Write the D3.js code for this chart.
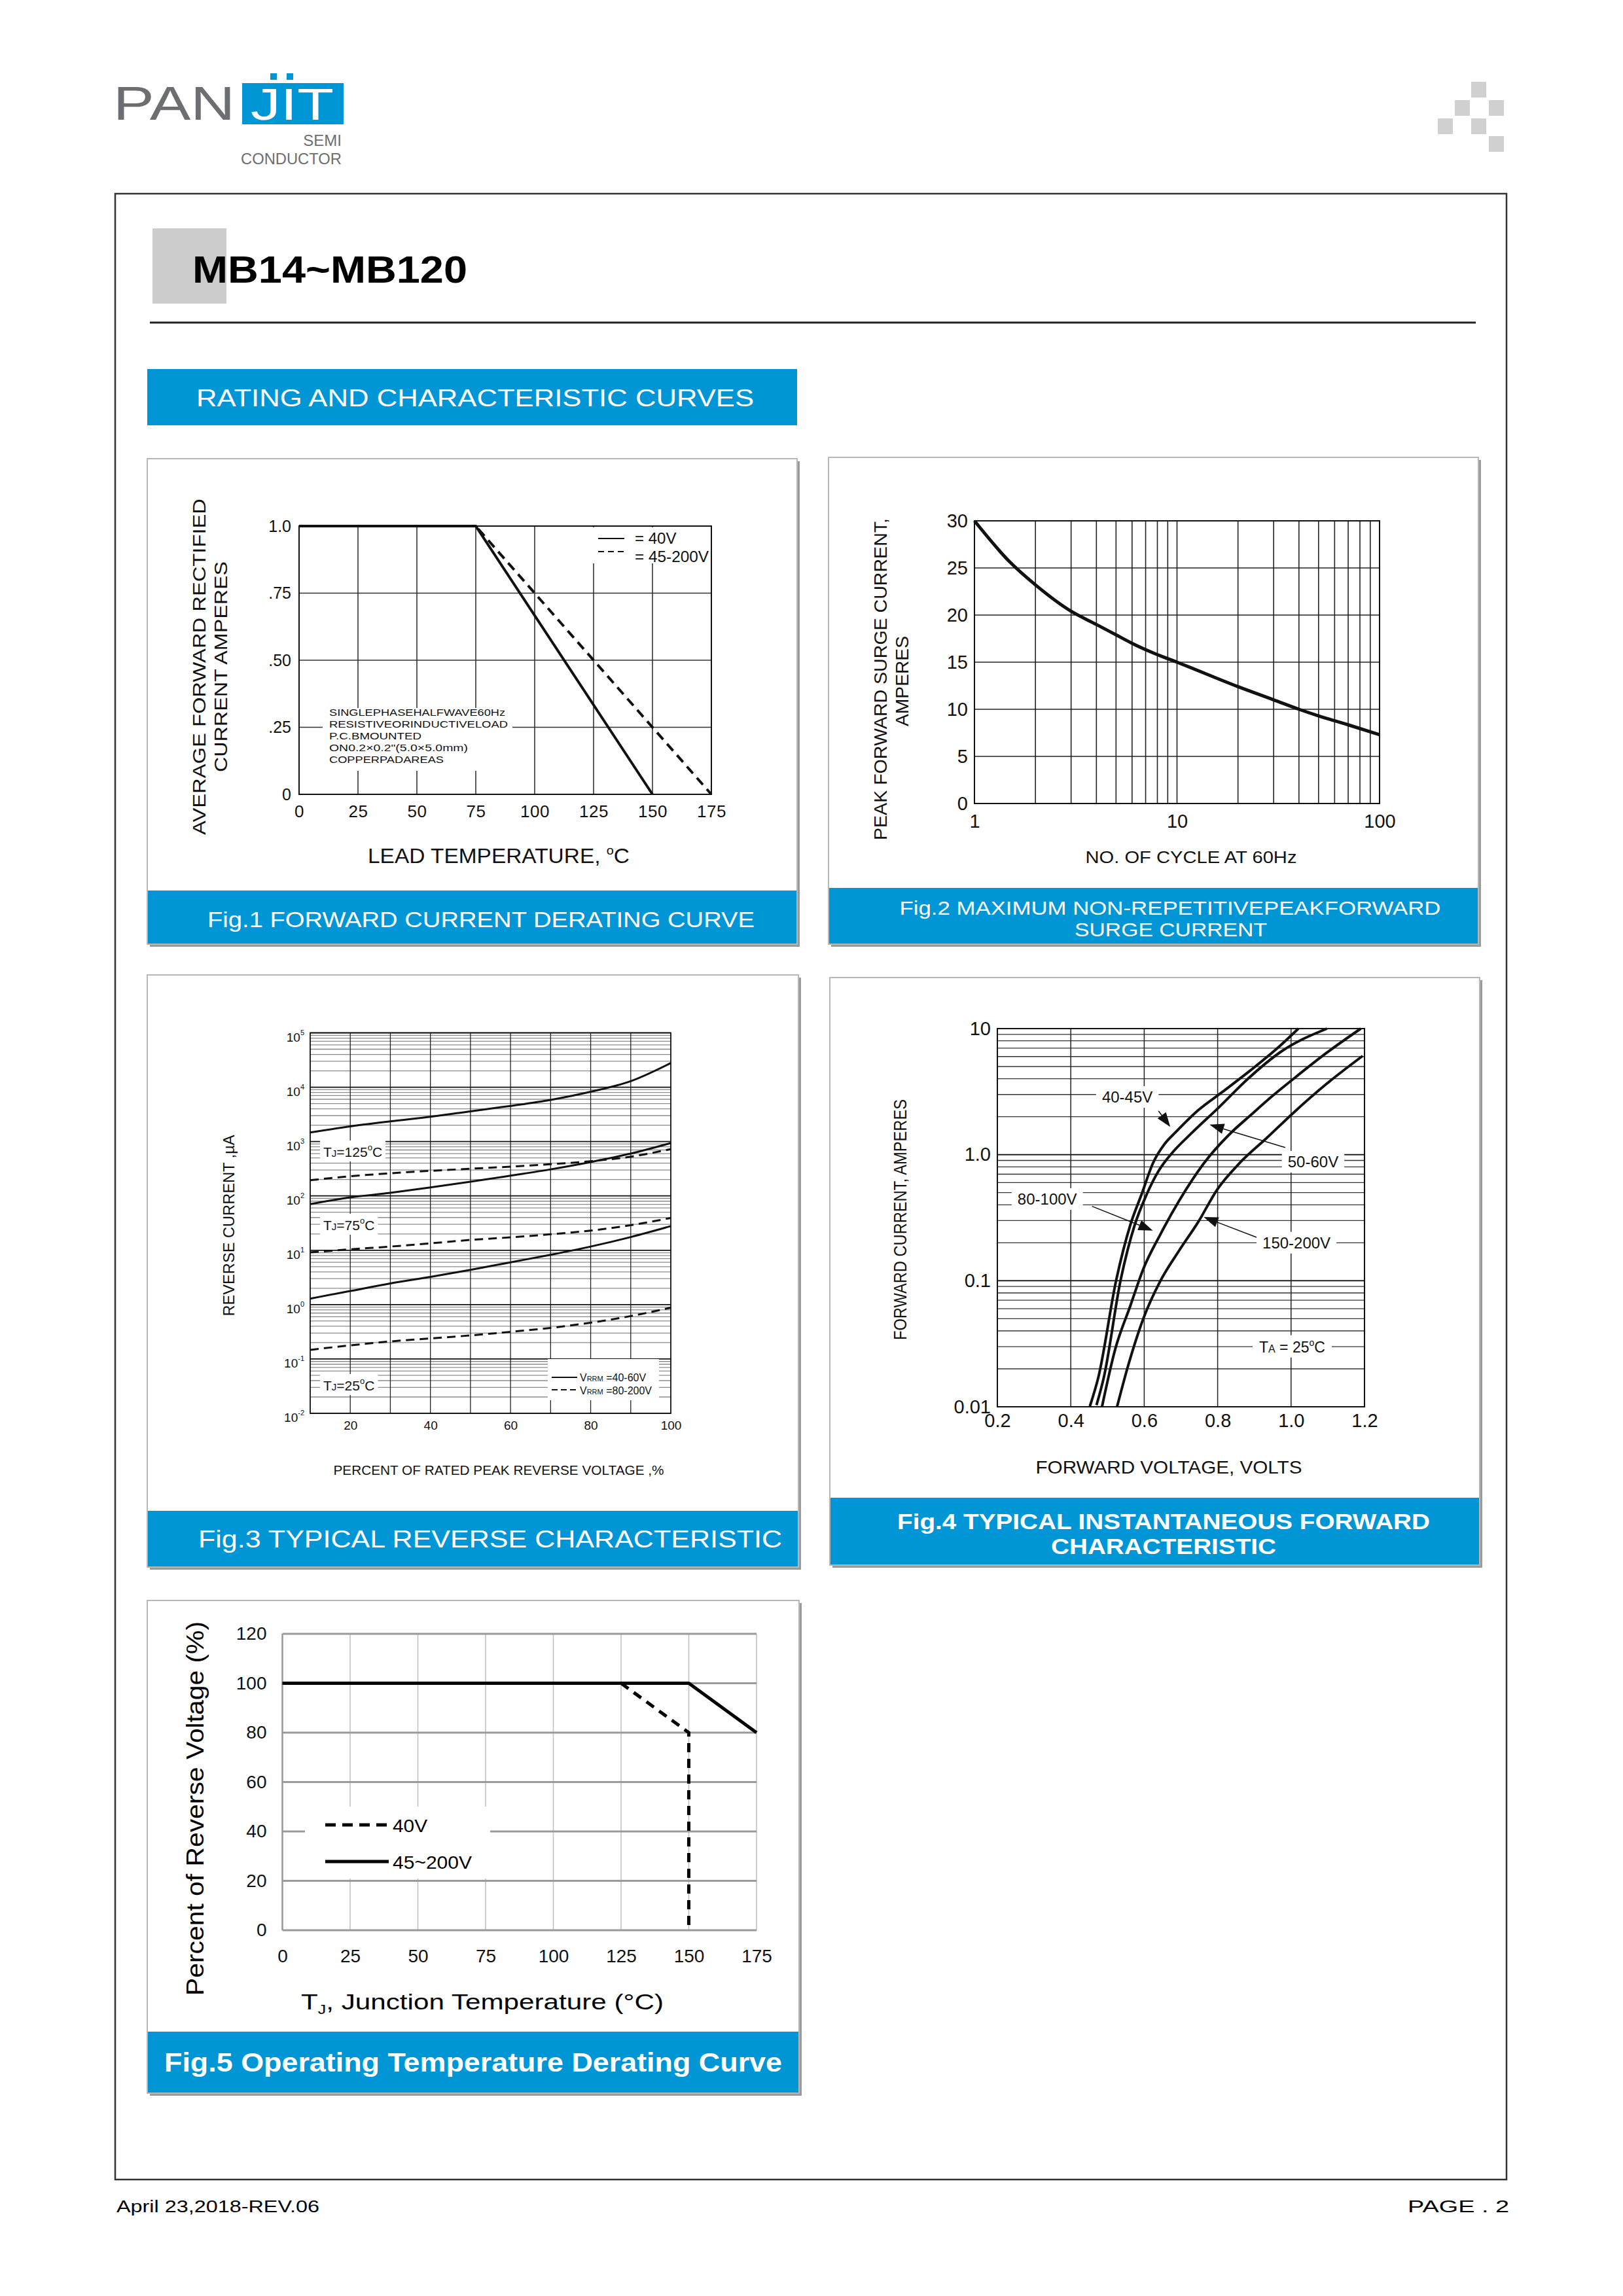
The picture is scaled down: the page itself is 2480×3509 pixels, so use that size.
<!DOCTYPE html>
<html>
<head>
<meta charset="utf-8">
<script src="https://cdn.jsdelivr.net/npm/d3@7"></script>
<style>
body { margin: 0; background: #fff; }
svg { display: block; }
</style>
</head>
<body>
<script>
// ---- Fig.1 forward current derating ----
var f1TempA = [0, 75, 150];          // 40V
var f1AmpA  = [1.0, 1.0, 0];
var f1TempB = [0, 75, 175];          // 45-200V
var f1AmpB  = [1.0, 1.0, 0];
var f1XTicks = [0, 25, 50, 75, 100, 125, 150, 175];
var f1YTicks = [0, 0.25, 0.5, 0.75, 1.0];
var f1YLabels = ["0", ".25", ".50", ".75", "1.0"];
var f1Note = ["SINGLEPHASEHALFWAVE60Hz", "RESISTIVEORINDUCTIVELOAD", "P.C.BMOUNTED",
              "ON0.2\u00d70.2\"(5.0\u00d75.0mm)", "COPPERPADAREAS"];

// ---- Fig.2 surge current ----
var f2Cycles = [1, 1.5, 2, 3, 4, 5, 6, 8, 10, 20, 30, 40, 50, 70, 100];
var f2Amps   = [30, 25.6, 23.2, 20.4, 19.0, 17.9, 17.0, 15.8, 15.0, 12.4, 11.0, 10.0, 9.3, 8.35, 7.3];
var f2XTicks = [1, 10, 100];
var f2YTicks = [0, 5, 10, 15, 20, 25, 30];

// ---- Fig.3 reverse characteristic (uA) ----
var f3Pct = [10, 20, 30, 40, 50, 60, 70, 80, 90, 100];
var f3Solid125 = [1470, 1900, 2350, 2860, 3600, 4530, 5850, 8260, 12900, 27800];
var f3Dash125  = [194, 230, 261, 289, 316, 346, 383, 435, 527, 726];
var f3Solid75  = [70.8, 93.8, 114, 143, 182, 236, 308, 419, 600, 938];
var f3Dash75   = [9.14, 10.4, 11.7, 13.4, 15.5, 17.3, 19.7, 23.0, 28.9, 39.3];
var f3Solid25  = [1.29, 1.78, 2.45, 3.24, 4.36, 6.0, 8.26, 11.7, 17.5, 27.8];
var f3Dash25   = [0.147, 0.178, 0.21, 0.239, 0.271, 0.316, 0.373, 0.465, 0.615, 0.879];
var f3XTicks = [20, 40, 60, 80, 100];
var f3Exps = [5, 4, 3, 2, 1, 0, -1, -2];

// ---- Fig.4 forward characteristic ----
var f4V1 = [0.452, 0.475, 0.524, 0.562, 0.593, 0.624, 0.655, 0.686, 0.747, 0.814, 0.891, 0.963, 1.02];
var f4I1 = [0.0101, 0.0171, 0.102, 0.276, 0.486, 0.858, 1.21, 1.51, 2.25, 3.16, 4.70, 7.0, 10];
var f4V2 = [0.470, 0.490, 0.536, 0.574, 0.607, 0.640, 0.672, 0.732, 0.804, 0.881, 0.974, 1.098];
var f4I2 = [0.0103, 0.0171, 0.102, 0.276, 0.486, 0.75, 1.0, 1.51, 2.38, 3.96, 6.6, 10];
var f4V3 = [0.485, 0.521, 0.562, 0.598, 0.644, 0.696, 0.763, 0.830, 0.891, 0.948, 1.005, 1.097, 1.19];
var f4I3 = [0.01, 0.0286, 0.063, 0.125, 0.233, 0.435, 0.858, 1.43, 2.07, 2.90, 3.96, 6.43, 10];
var f4V4 = [0.526, 0.557, 0.598, 0.644, 0.696, 0.747, 0.799, 0.860, 0.933, 1.005, 1.097, 1.195];
var f4I4 = [0.01, 0.0216, 0.0504, 0.0996, 0.175, 0.292, 0.53, 0.858, 1.35, 2.13, 3.65, 6.07];
var f4XTicks = [0.2, 0.4, 0.6, 0.8, 1.0, 1.2];
var f4YTicks = [0.01, 0.1, 1, 10];
var f4YLabels = ["0.01", "0.1", "1.0", "10"];
var f4Labels = [
  {t: "40-45V",  v: 0.485, i: 2.59,  sv: 0.639, si: 2.22,  tv: 0.671, ti: 1.66},
  {t: "50-60V",  v: 0.991, i: 0.794, sv: 0.984, si: 1.14,  tv: 0.778, ti: 1.73},
  {t: "80-100V", v: 0.255, i: 0.402, sv: 0.458, si: 0.389, tv: 0.6235, ti: 0.25},
  {t: "150-200V", v: 0.922, i: 0.181, sv: 0.906, si: 0.221, tv: 0.762, ti: 0.32}
];

// ---- Fig.5 operating temperature derating ----
var f5TempSolid = [0, 150, 175];     // 45~200V
var f5PctSolid  = [100, 100, 80];
var f5TempDash  = [125, 150, 150];   // 40V
var f5PctDash   = [100, 80, 0];
var f5XTicks = [0, 25, 50, 75, 100, 125, 150, 175];
var f5YTicks = [0, 20, 40, 60, 80, 100, 120];

var FONT = '"Liberation Sans", Arial, Helvetica, sans-serif';
var BLUE = "#0096d6";

var svg = d3.select("body").append("svg")
  .attr("width", 2480)
  .attr("height", 3509)
  .style("background", "#fff");

function txt(p, x, y, s, size, o) {
  o = o || {};
  var t = p.append("text")
    .attr("x", x).attr("y", y)
    .attr("font-size", size)
    .attr("font-family", o.family || FONT)
    .attr("fill", o.fill || "#111")
    .attr("text-anchor", o.anchor || "start");
  if (o.weight) t.attr("font-weight", o.weight);
  if (o.len) t.attr("textLength", o.len).attr("lengthAdjust", "spacingAndGlyphs");
  if (o.rot) t.attr("transform", "rotate(-90," + x + "," + y + ")");
  if (o.html) t.html(s); else t.text(s);
  return t;
}

function styleAxis(g, size, ls) {
  g.select(".domain").remove();
  g.attr("font-family", null).attr("font-size", null);
  g.selectAll("text").attr("font-family", FONT).attr("font-size", size).attr("fill", "#111")
    .attr("letter-spacing", ls || 0);
}

function hline(p, x0, x1, y, col, w) {
  p.append("line").attr("x1", x0).attr("x2", x1).attr("y1", y).attr("y2", y)
    .attr("stroke", col).attr("stroke-width", w);
}
function vline(p, x, y0, y1, col, w) {
  p.append("line").attr("x1", x).attr("x2", x).attr("y1", y0).attr("y2", y1)
    .attr("stroke", col).attr("stroke-width", w);
}

function panel(x0, y0, x1, y1, bandTop) {
  svg.append("rect").attr("x", x0 + 4).attr("y", y0 + 4)
    .attr("width", x1 - x0).attr("height", y1 - y0).attr("fill", "#9b9b9b");
  svg.append("rect").attr("x", x0).attr("y", y0)
    .attr("width", x1 - x0).attr("height", y1 - y0)
    .attr("fill", "#fff").attr("stroke", "#b8b8b8").attr("stroke-width", 2);
  svg.append("rect").attr("x", x0 + 1).attr("y", bandTop)
    .attr("width", x1 - x0 - 2).attr("height", y1 - bandTop - 1).attr("fill", BLUE);
}

function whiteBox(p, t, px, py) {
  var b = t.node().getBBox();
  p.insert("rect", function() { return t.node(); })
    .attr("x", b.x - px).attr("y", b.y - py)
    .attr("width", b.width + 2 * px).attr("height", b.height + 2 * py)
    .attr("fill", "#fff");
}

function arrow(p, x1, y1, x2, y2) {
  var a = Math.atan2(y2 - y1, x2 - x1), L = 22, W = 8;
  var bx = x2 - L * Math.cos(a), by = y2 - L * Math.sin(a);
  p.append("line").attr("x1", x1).attr("y1", y1).attr("x2", bx).attr("y2", by)
    .attr("stroke", "#111").attr("stroke-width", 1.5);
  var pts = [[x2, y2],
    [bx + W * Math.sin(a), by - W * Math.cos(a)],
    [bx - W * Math.sin(a), by + W * Math.cos(a)]];
  p.append("polygon").attr("points", pts.map(function(d) { return d.join(","); }).join(" "))
    .attr("fill", "#111");
}

// ================= page header =================
svg.append("rect").attr("x", 176).attr("y", 296).attr("width", 2126).attr("height", 3035)
  .attr("fill", "none").attr("stroke", "#333").attr("stroke-width", 2.5);

txt(svg, 173, 183, "PAN", 72, {fill: "#6d6e71", len: 186});
svg.append("rect").attr("x", 370).attr("y", 127).attr("width", 155).attr("height", 63).attr("fill", BLUE);
svg.append("rect").attr("x", 413).attr("y", 112).attr("width", 10).attr("height", 10).attr("fill", BLUE);
svg.append("rect").attr("x", 438).attr("y", 112).attr("width", 10).attr("height", 10).attr("fill", BLUE);
txt(svg, 383, 183, "JIT", 69, {fill: "#fff", len: 127});
txt(svg, 522, 223, "SEMI", 24, {fill: "#6d6e71", anchor: "end"});
txt(svg, 368, 251, "CONDUCTOR", 24, {fill: "#6d6e71", len: 154});

var pix = [[2248, 125], [2223, 153], [2275, 153], [2197, 181], [2248, 181], [2275, 208]];
svg.selectAll("rect.pix").data(pix).enter().append("rect").attr("class", "pix")
  .attr("x", function(d) { return d[0]; }).attr("y", function(d) { return d[1]; })
  .attr("width", 23).attr("height", 24).attr("fill", "#d0d0d0");

svg.append("rect").attr("x", 233).attr("y", 349).attr("width", 113).attr("height", 115).attr("fill", "#cccccc");
txt(svg, 294, 432, "MB14~MB120", 58, {weight: "bold", fill: "#000", len: 420});
hline(svg, 229, 2255, 493, "#222", 3);

svg.append("rect").attr("x", 225).attr("y", 564).attr("width", 993).attr("height", 86).attr("fill", BLUE);
txt(svg, 726, 621, "RATING AND CHARACTERISTIC CURVES", 37, {fill: "#fff", anchor: "middle", len: 852});

txt(svg, 178, 3381, "April 23,2018-REV.06", 25, {fill: "#000", len: 310});
txt(svg, 2306, 3381, "PAGE . 2", 25, {fill: "#000", anchor: "end", len: 155});

// ================= Fig.1 =================
panel(225, 701, 1218, 1443, 1361);
txt(svg, 735, 1417, "Fig.1 FORWARD CURRENT DERATING CURVE", 33, {fill: "#fff", anchor: "middle", len: 836});
(function() {
  var g = svg.append("g");
  var x = d3.scaleLinear().domain([0, 175]).range([457, 1087]);
  var y = d3.scaleLinear().domain([0, 1]).range([1214, 804]);
  f1XTicks.forEach(function(v) { vline(g, x(v), y(1), y(0), "#333", 1.6); });
  f1YTicks.forEach(function(v) { hline(g, x(0), x(175), y(v), "#333", 1.6); });
  g.append("rect").attr("x", x(0)).attr("y", y(1)).attr("width", x(175) - x(0)).attr("height", y(0) - y(1))
    .attr("fill", "none").attr("stroke", "#111").attr("stroke-width", 2);

  // note
  g.append("rect").attr("x", 493).attr("y", 1082).attr("width", 290).attr("height", 96).attr("fill", "#fff");
  var noteLen = [269, 273, 141, 212, 175];
  f1Note.forEach(function(s, i) { txt(g, 503, 1094 + i * 18, s, 15, {len: noteLen[i]}); });

  var line = d3.line().x(function(d) { return x(d[0]); }).y(function(d) { return y(d[1]); });
  g.append("path").attr("d", line(d3.zip(f1TempB, f1AmpB))).attr("fill", "none")
    .attr("stroke", "#111").attr("stroke-width", 4).attr("stroke-dasharray", "14,9");
  g.append("path").attr("d", line(d3.zip(f1TempA, f1AmpA))).attr("fill", "none")
    .attr("stroke", "#111").attr("stroke-width", 4);

  // legend
  g.append("rect").attr("x", 905).attr("y", 806).attr("width", 180).attr("height", 55).attr("fill", "#fff");
  hline(g, 914, 954, 823, "#111", 2);
  g.append("line").attr("x1", 914).attr("x2", 954).attr("y1", 843).attr("y2", 843)
    .attr("stroke", "#111").attr("stroke-width", 2).attr("stroke-dasharray", "9,6");
  txt(g, 970, 831, "= 40V", 24);
  txt(g, 970, 859, "= 45-200V", 24, {len: 113});

  var ax = g.append("g").attr("transform", "translate(0,1214)")
    .call(d3.axisBottom(x).tickValues(f1XTicks).tickSize(0).tickPadding(17).tickFormat(d3.format("d")));
  styleAxis(ax, 26, 0.5);
  var ay = g.append("g").attr("transform", "translate(457,0)")
    .call(d3.axisLeft(y).tickValues(f1YTicks).tickSize(0).tickPadding(12)
      .tickFormat(function(d, i) { return f1YLabels[i]; }));
  styleAxis(ay, 25);

  txt(g, 762, 1319, 'LEAD TEMPERATURE, <tspan font-size="19" dy="-13">o</tspan><tspan dy="13">C</tspan>', 32,
      {anchor: "middle", len: 400, html: true});
  txt(g, 314, 1019, "AVERAGE FORWARD RECTIFIED", 27, {anchor: "middle", rot: true, len: 514});
  txt(g, 347, 1019, "CURRENT AMPERES", 27, {anchor: "middle", rot: true, len: 322});
})();

// ================= Fig.2 =================
panel(1266, 699, 2259, 1443, 1357);
txt(svg, 1788, 1398, "Fig.2  MAXIMUM NON-REPETITIVEPEAKFORWARD", 30, {fill: "#fff", anchor: "middle", len: 827});
txt(svg, 1789, 1431, "SURGE CURRENT", 30, {fill: "#fff", anchor: "middle", len: 294});
(function() {
  var g = svg.append("g");
  var x = d3.scaleLog().domain([1, 100]).range([1489, 2108]);
  var y = d3.scaleLinear().domain([0, 30]).range([1228, 796]);
  x.ticks().forEach(function(v) { vline(g, x(v), y(30), y(0), "#222", 1.6); });
  f2YTicks.forEach(function(v) { hline(g, x(1), x(100), y(v), "#222", 1.6); });
  g.append("rect").attr("x", x(1)).attr("y", y(30)).attr("width", x(100) - x(1)).attr("height", y(0) - y(30))
    .attr("fill", "none").attr("stroke", "#111").attr("stroke-width", 2);

  var line = d3.line().curve(d3.curveMonotoneX)
    .x(function(d) { return x(d[0]); }).y(function(d) { return y(d[1]); });
  g.append("path").attr("d", line(d3.zip(f2Cycles, f2Amps))).attr("fill", "none")
    .attr("stroke", "#111").attr("stroke-width", 5);

  var ax = g.append("g").attr("transform", "translate(0,1228)")
    .call(d3.axisBottom(x).tickValues(f2XTicks).tickSize(0).tickPadding(16).tickFormat(d3.format("d")));
  styleAxis(ax, 29);
  var ay = g.append("g").attr("transform", "translate(1489,0)")
    .call(d3.axisLeft(y).tickValues(f2YTicks).tickSize(0).tickPadding(10));
  styleAxis(ay, 29);

  txt(g, 1820, 1319, "NO. OF CYCLE AT 60Hz", 25, {anchor: "middle", len: 323});
  txt(g, 1355, 1038, "PEAK FORWARD SURGE CURRENT,", 28, {anchor: "middle", rot: true, len: 492});
  txt(g, 1388, 1041, "AMPERES", 28, {anchor: "middle", rot: true, len: 138});
})();

// ================= Fig.3 =================
panel(225, 1490, 1220, 2395, 2309);
txt(svg, 749, 2365, "Fig.3 TYPICAL REVERSE CHARACTERISTIC", 37, {fill: "#fff", anchor: "middle", len: 892});
(function() {
  var g = svg.append("g");
  var x = d3.scaleLinear().domain([10, 100]).range([474, 1025]);
  var y = d3.scaleLog().domain([0.01, 1e5]).range([2160, 1578.5]);
  y.ticks().forEach(function(v) {
    var major = Math.abs(Math.log10(v) - Math.round(Math.log10(v))) < 1e-9;
    if (!major) hline(g, x(10), x(100), y(v), "#8c8c8c", 1.3);
  });
  d3.range(20, 100, 10).forEach(function(v) { vline(g, x(v), y(1e5), y(0.01), "#222", 1.3); });
  f3Exps.forEach(function(e) { hline(g, x(10), x(100), y(Math.pow(10, e)), "#111", 1.7); });
  g.append("rect").attr("x", x(10)).attr("y", y(1e5)).attr("width", x(100) - x(10)).attr("height", y(0.01) - y(1e5))
    .attr("fill", "none").attr("stroke", "#111").attr("stroke-width", 1.8);

  // TJ labels
  var tjs = [["125", 1768], ["75", 1880], ["25", 2125]];
  tjs.forEach(function(d) {
    var t = txt(g, 494, d[1], 'T<tspan font-size="15">J</tspan>=' + d[0] +
      '<tspan font-size="13" dy="-10">o</tspan><tspan dy="10">C</tspan>', 21, {html: true});
    whiteBox(g, t, 5, 3);
  });

  var line = d3.line().curve(d3.curveMonotoneX)
    .x(function(d) { return x(d[0]); }).y(function(d) { return y(d[1]); });
  [f3Solid125, f3Solid75, f3Solid25].forEach(function(s) {
    g.append("path").attr("d", line(d3.zip(f3Pct, s))).attr("fill", "none")
      .attr("stroke", "#111").attr("stroke-width", 3);
  });
  [f3Dash125, f3Dash75, f3Dash25].forEach(function(s) {
    g.append("path").attr("d", line(d3.zip(f3Pct, s))).attr("fill", "none")
      .attr("stroke", "#111").attr("stroke-width", 3).attr("stroke-dasharray", "13,8");
  });

  // legend
  g.append("rect").attr("x", 837).attr("y", 2077).attr("width", 170).attr("height", 63).attr("fill", "#fff");
  hline(g, 843, 882, 2105, "#111", 2);
  g.append("line").attr("x1", 843).attr("x2", 882).attr("y1", 2124).attr("y2", 2124)
    .attr("stroke", "#111").attr("stroke-width", 2).attr("stroke-dasharray", "9,5");
  txt(g, 886, 2111, 'V<tspan font-size="11">RRM</tspan> =40-60V', 16, {html: true});
  txt(g, 886, 2131, 'V<tspan font-size="11">RRM</tspan> =80-200V', 16, {html: true});

  var ax = g.append("g").attr("transform", "translate(0,2160)")
    .call(d3.axisBottom(x).tickValues(f3XTicks).tickSize(0).tickPadding(12));
  styleAxis(ax, 19);
  f3Exps.forEach(function(e) {
    txt(g, 465, y(Math.pow(10, e)) + 13, '10<tspan font-size="11" dy="-10">' + e + '</tspan>', 19,
        {anchor: "end", html: true});
  });

  txt(g, 762, 2254, "PERCENT OF RATED PEAK REVERSE VOLTAGE ,%", 21, {anchor: "middle", len: 505});
  txt(g, 358, 1873, "REVERSE CURRENT ,\u00b5A", 23, {anchor: "middle", rot: true, len: 277});
})();

// ================= Fig.4 =================
panel(1268, 1494, 2261, 2392, 2289);
txt(svg, 1778, 2337, "Fig.4 TYPICAL INSTANTANEOUS FORWARD", 33, {fill: "#fff", anchor: "middle", weight: "bold", len: 814});
txt(svg, 1778, 2375, "CHARACTERISTIC", 33, {fill: "#fff", anchor: "middle", weight: "bold", len: 344});
(function() {
  var g = svg.append("g");
  var x = d3.scaleLinear().domain([0.2, 1.2]).range([1524, 2085]);
  var y = d3.scaleLog().domain([0.01, 10]).range([2150, 1572]);
  y.ticks().forEach(function(v) { hline(g, x(0.2), x(1.2), y(v), "#333", 1.3); });
  f4YTicks.forEach(function(v) { hline(g, x(0.2), x(1.2), y(v), "#111", 1.8); });
  f4XTicks.forEach(function(v) { vline(g, x(v), y(10), y(0.01), "#222", 1.5); });
  g.append("rect").attr("x", x(0.2)).attr("y", y(10)).attr("width", x(1.2) - x(0.2)).attr("height", y(0.01) - y(10))
    .attr("fill", "none").attr("stroke", "#111").attr("stroke-width", 2);

  f4Labels.forEach(function(d) {
    var t = txt(g, x(d.v), y(d.i), d.t, 24);
    whiteBox(g, t, 9, 3);
  });
  var ta = txt(g, x(0.913), y(0.0271), 'T<tspan font-size="16">A</tspan> = 25<tspan font-size="14" dy="-10">o</tspan><tspan dy="10">C</tspan>', 23, {html: true});
  whiteBox(g, ta, 10, 3);

  var line = d3.line().curve(d3.curveMonotoneX)
    .x(function(d) { return x(d[0]); }).y(function(d) { return y(d[1]); });
  [[f4V1, f4I1], [f4V2, f4I2], [f4V3, f4I3], [f4V4, f4I4]].forEach(function(c) {
    g.append("path").attr("d", line(d3.zip(c[0], c[1]))).attr("fill", "none")
      .attr("stroke", "#111").attr("stroke-width", 4);
  });
  f4Labels.forEach(function(d) { arrow(g, x(d.sv), y(d.si), x(d.tv), y(d.ti)); });

  var ax = g.append("g").attr("transform", "translate(0,2150)")
    .call(d3.axisBottom(x).tickValues(f4XTicks).tickSize(0).tickPadding(10).tickFormat(d3.format(".1f")));
  styleAxis(ax, 29);
  var ay = g.append("g").attr("transform", "translate(1524,0)")
    .call(d3.axisLeft(y).tickValues(f4YTicks).tickSize(0).tickPadding(10)
      .tickFormat(function(d, i) { return f4YLabels[i]; }));
  styleAxis(ay, 29);

  txt(g, 1786, 2252, "FORWARD VOLTAGE, VOLTS", 28, {anchor: "middle", len: 407});
  txt(g, 1385, 1864, "FORWARD CURRENT, AMPERES", 27, {anchor: "middle", rot: true, len: 368});
})();

// ================= Fig.5 =================
panel(225, 2446, 1221, 3199, 3105);
txt(svg, 723, 3166, "Fig.5 Operating Temperature Derating Curve", 40, {fill: "#fff", anchor: "middle", weight: "bold", len: 944});
(function() {
  var g = svg.append("g");
  var x = d3.scaleLinear().domain([0, 175]).range([431.5, 1156]);
  var y = d3.scaleLinear().domain([0, 120]).range([2950, 2497]);
  f5XTicks.forEach(function(v) { vline(g, x(v), y(120), y(0), "#c2c2c2", 1.6); });
  vline(g, x(0), y(120), y(0), "#9a9a9a", 2.5);
  f5YTicks.forEach(function(v) { hline(g, x(0), x(175), y(v), "#9a9a9a", 3); });

  // legend box
  g.append("rect").attr("x", 466).attr("y", 2761).attr("width", 283).attr("height", 110).attr("fill", "#fff");

  var line = d3.line().x(function(d) { return x(d[0]); }).y(function(d) { return y(d[1]); });
  g.append("path").attr("d", line(d3.zip(f5TempSolid, f5PctSolid))).attr("fill", "none")
    .attr("stroke", "#000").attr("stroke-width", 5);
  g.append("path").attr("d", line(d3.zip(f5TempDash, f5PctDash))).attr("fill", "none")
    .attr("stroke", "#000").attr("stroke-width", 5).attr("stroke-dasharray", "14,10");

  g.append("line").attr("x1", 497).attr("x2", 594).attr("y1", 2789).attr("y2", 2789)
    .attr("stroke", "#000").attr("stroke-width", 5).attr("stroke-dasharray", "16,10");
  hline(g, 497, 594, 2845, "#000", 5);
  txt(g, 600, 2800, "40V", 27, {fill: "#000", len: 53});
  txt(g, 600, 2856, "45~200V", 27, {fill: "#000", len: 121});

  var ax = g.append("g").attr("transform", "translate(0,2950)")
    .call(d3.axisBottom(x).tickValues(f5XTicks).tickSize(0).tickPadding(29));
  styleAxis(ax, 28);
  var ay = g.append("g").attr("transform", "translate(431.5,0)")
    .call(d3.axisLeft(y).tickValues(f5YTicks).tickSize(0).tickPadding(24));
  styleAxis(ay, 28);

  txt(g, 737, 3071, 'T<tspan font-size="20" dy="7">J</tspan><tspan dy="-7">, Junction Temperature  (\u00b0C)</tspan>', 34,
      {anchor: "middle", fill: "#000", len: 554, html: true});
  txt(g, 311, 2764, "Percent of Reverse Voltage (%)", 36, {anchor: "middle", rot: true, fill: "#000", len: 572});
})();
</script>
</body>
</html>
